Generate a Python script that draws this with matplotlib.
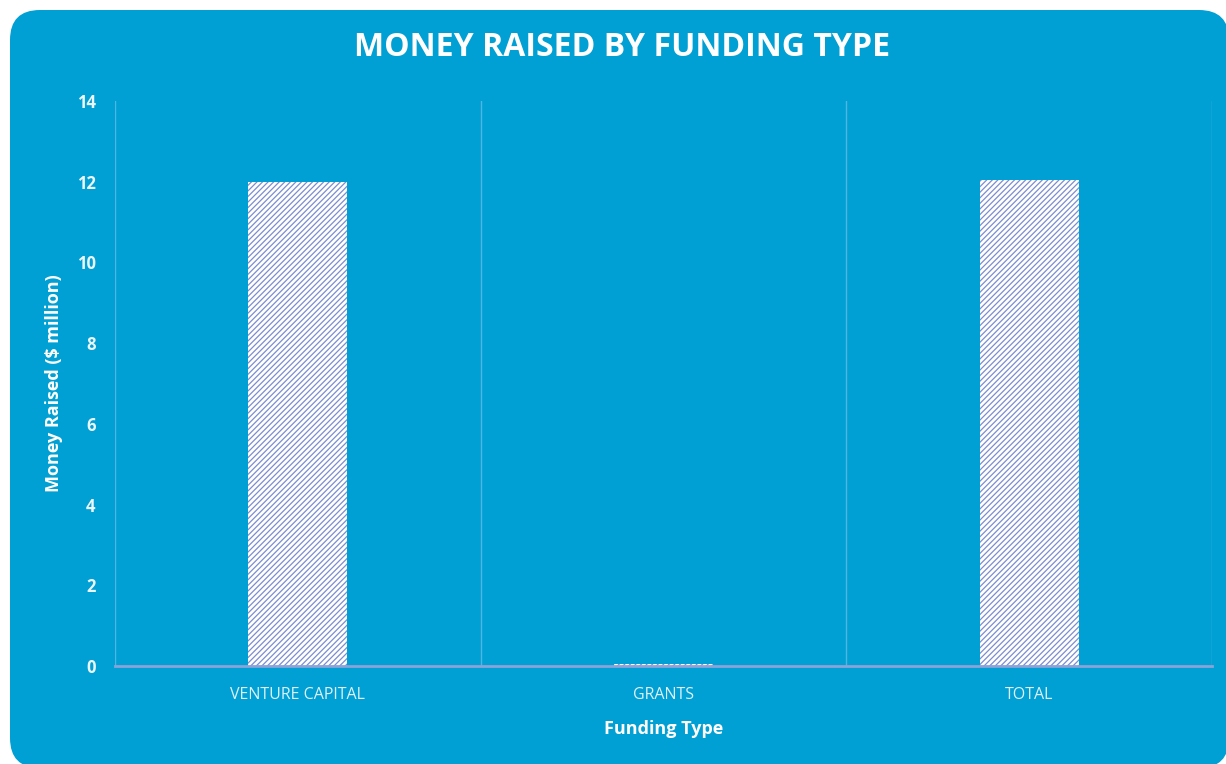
import matplotlib.pyplot as plt
from matplotlib.patches import FancyBboxPatch

categories = ["VENTURE CAPITAL", "GRANTS", "TOTAL"]
money_raised = [12.0, 0.05, 12.05]
y_ticks = [0, 2, 4, 6, 8, 10, 12, 14]

W, H = 1226, 764
bg = "#009fd4"
plt.rcParams['font.family'] = ['Open Sans', 'DejaVu Sans']
plt.rcParams['hatch.color'] = "#7b8dd0"
plt.rcParams['hatch.linewidth'] = 0.9

fig = plt.figure(figsize=(W / 100, H / 100), dpi=100)
fig.patch.set_facecolor("white")

# pixel-space axes for the rounded blue card
card_ax = fig.add_axes([0, 0, 1, 1], zorder=-5)
card_ax.set_xlim(0, W)
card_ax.set_ylim(H, 0)
card_ax.axis("off")
card_ax.add_patch(FancyBboxPatch((10, 10), 1219, 758,
                                 boxstyle="round,pad=0,rounding_size=30",
                                 facecolor=bg, edgecolor="none"))

ax = fig.add_axes([115 / W, 1 - 666 / H, 1097 / W, 565 / H])
ax.set_facecolor("none")

x = list(range(len(categories)))
ax.bar(x, money_raised, width=0.27, color="white", hatch="//////",
       edgecolor="#7b8dd0", linewidth=0, zorder=3)

ax.set_xlim(-0.5, 2.5)
ax.set_ylim(0, 14)
ax.set_yticks(y_ticks)
ax.set_yticklabels([str(t) for t in y_ticks], color="#eaf6fb",
                   fontsize=12, fontweight="bold")
ax.set_xticks(x)
ax.set_xticklabels(categories, color="#e0f1f8", fontsize=11.5)
ax.tick_params(axis="y", length=0, pad=14)
ax.tick_params(axis="x", length=0, pad=15)

# separators between categories
for b in [-0.5, 0.5, 1.5, 2.5]:
    ax.axvline(b, color="#4db6e2", linewidth=1, zorder=1)

for s in ["top", "right", "left"]:
    ax.spines[s].set_visible(False)
ax.spines["bottom"].set_color("#8aa3d8")
ax.spines["bottom"].set_linewidth(2)
ax.spines["bottom"].set_zorder(4)

ax.set_xlabel("Funding Type", color="white", fontsize=13,
              fontweight="bold", labelpad=12)
ax.set_ylabel("Money Raised ($ million)", color="white", fontsize=13,
              fontweight="bold", labelpad=10)

fig.text(622 / W, 1 - 48 / H, "MONEY RAISED BY FUNDING TYPE",
         color="white", fontsize=23, fontweight="bold",
         ha="center", va="center")

fig.savefig("out.png", dpi=100, facecolor=fig.get_facecolor())
